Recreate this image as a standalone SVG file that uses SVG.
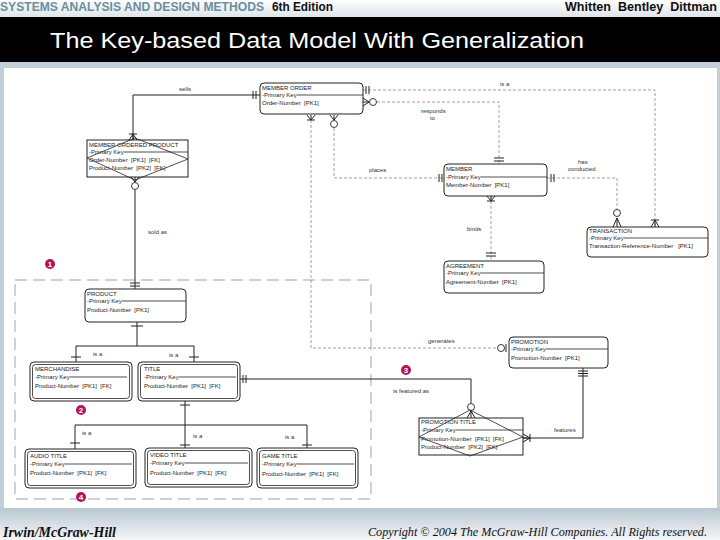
<svg xmlns="http://www.w3.org/2000/svg" width="720" height="540" viewBox="0 0 720 540">
<defs>
<linearGradient id="topg" x1="0" y1="0" x2="0" y2="1"><stop offset="0" stop-color="#ffffff"/><stop offset="1" stop-color="#dde4e9"/></linearGradient>
<linearGradient id="footg" x1="0" y1="0" x2="0" y2="1"><stop offset="0" stop-color="#b9c7d1"/><stop offset="1" stop-color="#f5f7f9"/></linearGradient>
<style>
text{white-space:pre}
.ent{fill:#fff;stroke:#222;stroke-width:1}
.in{fill:none;stroke:#222;stroke-width:0.8}
.et{font-family:"Liberation Sans",Arial,sans-serif;font-size:6px;fill:#222}
.lb{font-family:"Liberation Sans",Arial,sans-serif;font-size:6px;fill:#333}
.sol{fill:none;stroke:#222;stroke-width:1}
.dsh{fill:none;stroke:#888;stroke-width:0.8;stroke-dasharray:3,2}
.mk{fill:none;stroke:#222;stroke-width:1}
.cir{fill:#fff;stroke:#222;stroke-width:0.9}
.reg{fill:none;stroke:#999;stroke-width:0.9;stroke-dasharray:12,6}
.bd{fill:#b5125e}
.bt{font-family:"Liberation Sans",Arial,sans-serif;font-size:8px;font-weight:bold;fill:#fff;text-anchor:middle}
.pkl{stroke:#222;stroke-width:0.8}
</style>
</defs>
<!-- background -->
<rect x="0" y="0" width="720" height="540" fill="#c3cfd8"/>
<rect x="0" y="0" width="720" height="17" fill="url(#topg)"/>
<rect x="0" y="17" width="720" height="45" fill="#000"/>
<rect x="0" y="508" width="720" height="32" fill="url(#footg)"/>
<rect x="4" y="68" width="713" height="440" fill="#fff"/>
<g id="header">
<text x="0" y="11" font-family="'Liberation Sans',Arial,sans-serif" font-size="12" font-weight="bold" fill="#6b8e9c" textLength="264" lengthAdjust="spacingAndGlyphs">SYSTEMS ANALYSIS AND DESIGN METHODS</text>
<text x="272" y="11" font-family="'Liberation Sans',Arial,sans-serif" font-size="12" font-weight="bold" fill="#111" textLength="61" lengthAdjust="spacingAndGlyphs">6th Edition</text>
<text x="565" y="11" font-family="'Liberation Sans',Arial,sans-serif" font-size="12" font-weight="bold" fill="#111" textLength="152" lengthAdjust="spacingAndGlyphs">Whitten  Bentley  Dittman</text>
<text x="50" y="48" font-family="'Liberation Sans',Arial,sans-serif" font-size="22" fill="#fff" textLength="534" lengthAdjust="spacingAndGlyphs">The Key-based Data Model With Generalization</text>
</g>
<g id="footer">
<text x="3" y="537" font-family="'Liberation Serif','Times New Roman',serif" font-size="14" font-style="italic" font-weight="bold" fill="#111" textLength="113" lengthAdjust="spacingAndGlyphs">Irwin/McGraw-Hill</text>
<text x="368" y="536" font-family="'Liberation Serif','Times New Roman',serif" font-size="12.5" font-style="italic" fill="#111" textLength="339" lengthAdjust="spacingAndGlyphs">Copyright © 2004 The McGraw-Hill Companies. All Rights reserved.</text>
</g>
<!-- generalization region -->
<path class="reg" d="M15,280 H371 V499 H15 Z"/>
<g id="connectors">
<!-- sells -->
<path class="sol" d="M260,95 H133 V140"/>
<path class="mk" d="M253,91 V99 M256,91 V99 M129,134 H137 M133,134 L129,140 M133,134 V140 M133,134 L137,140"/>
<!-- sold as -->
<path class="sol" d="M135,190 V289"/>
<path class="mk" d="M131,177 L135,182 M135,177 V182 M139,177 L135,182 M130,283 H140 M130,286 H140"/>
<circle class="cir" cx="135" cy="186" r="3.5"/>
<!-- is a (member order - transaction) -->
<path class="dsh" d="M363,90 H655 V227"/>
<path class="mk" d="M366,86 V94 M369,86 V94 M651,220 H659 M655,220 L651,227 M655,220 V227 M655,220 L659,227"/>
<!-- responds to -->
<path class="dsh" d="M377,102 H499 V164"/>
<path class="mk" d="M363,98 L369,102 L363,106 M363,102 H369 M494,158 H504 M494,161 H504"/>
<circle class="cir" cx="373" cy="102" r="3.5"/>
<!-- places -->
<path class="dsh" d="M334,128 V178 H444"/>
<path class="mk" d="M330,115 L334,120 M334,115 V120 M338,115 L334,120 M439,174 V182 M442,174 V182"/>
<circle class="cir" cx="334" cy="124" r="3.5"/>
<!-- generates -->
<path class="dsh" d="M311,120 V348 H497"/>
<path class="mk" d="M307,115 L311,120 M311,115 V120 M315,115 L311,120 M307,120 H315 M506,344 V352"/>
<circle class="cir" cx="501" cy="348" r="3.5"/>
<!-- binds -->
<path class="dsh" d="M491,196 V261"/>
<path class="mk" d="M487,196 L491,201 M491,196 V201 M495,196 L491,201 M487,201 H495 M486,253 H496 M486,256 H496"/>
<!-- has conducted -->
<path class="dsh" d="M547,178 H617 V209"/>
<path class="mk" d="M551,174 V182 M554,174 V182 M617,218 L613,227 M617,218 V227 M617,218 L621,227"/>
<circle class="cir" cx="617" cy="213" r="3.5"/>
<!-- product generalization -->
<path class="sol" d="M137,322 V346 M76,346 H194 M76,346 V362 M194,346 V362"/>
<path class="mk" d="M131,326 H143 M71,357 H81 M189,357 H199"/>
<!-- is featured as -->
<path class="sol" d="M240,379 H471 V403"/>
<path class="mk" d="M243,375 V383 M246,375 V383 M471,411 L467,418 M471,411 V418 M471,411 L475,418"/>
<circle class="cir" cx="471" cy="407" r="3.5"/>
<!-- features -->
<path class="sol" d="M583,368 V438 H523"/>
<path class="mk" d="M578,371 H588 M578,373.5 H588 M578,376 H588 M530,434 V442 M530,438 L523,434 M530,438 H523 M530,438 L523,442"/>
<!-- title generalization -->
<path class="sol" d="M185,401 V448 M75,425 H307 M75,425 V449 M307,425 V448"/>
<path class="mk" d="M180,405 H190 M70,443 H80 M180,445 H190 M302,445 H312"/>
</g>
<g id="labels">
<text class="lb" x="179" y="91">sells</text>
<text class="lb" x="500" y="86">is a</text>
<text class="lb" x="421" y="113">responds</text>
<text class="lb" x="430" y="120">to</text>
<text class="lb" x="369" y="172">places</text>
<text class="lb" x="578" y="164">has</text>
<text class="lb" x="568" y="171">conducted</text>
<text class="lb" x="467" y="231">binds</text>
<text class="lb" x="148" y="234">sold as</text>
<text class="lb" x="428" y="343">generates</text>
<text class="lb" x="93" y="356">is a</text>
<text class="lb" x="169" y="357">is a</text>
<text class="lb" x="393" y="393">is featured as</text>
<text class="lb" x="554" y="432">features</text>
<text class="lb" x="82" y="435">is a</text>
<text class="lb" x="193" y="438">is a</text>
<text class="lb" x="285" y="439">is a</text>
</g>
<g id="badges">
<circle class="bd" cx="50" cy="264" r="5"/><text class="bt" x="50" y="267">1</text>
<circle class="bd" cx="81" cy="410" r="5"/><text class="bt" x="81" y="413">2</text>
<circle class="bd" cx="406" cy="370" r="5"/><text class="bt" x="406" y="373">3</text>
<circle class="bd" cx="81" cy="497" r="5"/><text class="bt" x="81" y="500">4</text>
</g>
<g id="member-order">
<rect class="ent" x="260" y="83" width="103" height="31" rx="4"/>
<text class="et" x="262" y="90">MEMBER ORDER</text>
<text class="et" x="262" y="97">-Primary Key</text><line class="pkl" x1="297" y1="95" x2="363" y2="95"/>
<text class="et" x="262" y="105">Order-Number  [PK1]</text>
</g>
<g id="member-ordered-product">
<rect class="ent" x="87" y="140" width="101" height="37"/>
<path class="in" d="M87,158 L135,138 L188,159 L135,180 Z"/>
<text class="et" x="89" y="147">MEMBER ORDERED PRODUCT</text>
<text class="et" x="89" y="154">-Primary Key</text><line class="pkl" x1="124" y1="152" x2="188" y2="152"/>
<text class="et" x="89" y="162">Order-Number  [PK1]  [FK]</text>
<text class="et" x="89" y="170">Product-Number  [PK2]  [FK]</text>
</g>
<g id="member">
<rect class="ent" x="444" y="164" width="103" height="32" rx="4"/>
<text class="et" x="446" y="171">MEMBER</text>
<text class="et" x="446" y="179">-Primary Key</text><line class="pkl" x1="481" y1="177" x2="547" y2="177"/>
<text class="et" x="446" y="187">Member-Number  [PK1]</text>
</g>
<g id="agreement">
<rect class="ent" x="444" y="261" width="100" height="32" rx="4"/>
<text class="et" x="446" y="268">AGREEMENT</text>
<text class="et" x="446" y="275">-Primary Key</text><line class="pkl" x1="481" y1="273" x2="544" y2="273"/>
<text class="et" x="446" y="284">Agreement-Number  [PK1]</text>
</g>
<g id="transaction">
<rect class="ent" x="587" y="227" width="121" height="30" rx="4"/>
<text class="et" x="589" y="233">TRANSACTION</text>
<text class="et" x="589" y="240">-Primary Key</text><line class="pkl" x1="624" y1="238" x2="708" y2="238"/>
<text class="et" x="589" y="248">Transaction-Reference-Number   [PK1]</text>
</g>
<g id="product">
<rect class="ent" x="85" y="289" width="101" height="33" rx="4"/>
<text class="et" x="87" y="296">PRODUCT</text>
<text class="et" x="87" y="303">-Primary Key</text><line class="pkl" x1="122" y1="301" x2="186" y2="301"/>
<text class="et" x="87" y="312">Product-Number  [PK1]</text>
</g>
<g id="merchandise">
<rect class="ent" x="30" y="362" width="102" height="39" rx="4"/>
<rect class="in" x="32.5" y="364.5" width="97" height="34" rx="3"/>
<text class="et" x="35" y="371">MERCHANDISE</text>
<text class="et" x="35" y="379">-Primary Key</text><line class="pkl" x1="70" y1="377" x2="127" y2="377"/>
<text class="et" x="35" y="388">Product-Number  [PK1]  [FK]</text>
</g>
<g id="title">
<rect class="ent" x="138" y="362" width="102" height="39" rx="4"/>
<rect class="in" x="140.5" y="364.5" width="97" height="34" rx="3"/>
<text class="et" x="144" y="371">TITLE</text>
<text class="et" x="144" y="379">-Primary Key</text><line class="pkl" x1="179" y1="377" x2="236" y2="377"/>
<text class="et" x="144" y="388">Product-Number  [PK1]  [FK]</text>
</g>
<g id="promotion">
<rect class="ent" x="509" y="337" width="99" height="31" rx="4"/>
<text class="et" x="511" y="344">PROMOTION</text>
<text class="et" x="511" y="351">-Primary Key</text><line class="pkl" x1="546" y1="349" x2="608" y2="349"/>
<text class="et" x="511" y="360">Promotion-Number  [PK1]</text>
</g>
<g id="promotion-title">
<rect class="ent" x="419" y="418" width="104" height="37"/>
<path class="in" d="M419,437 L470,410 L523,437 L470,456 Z"/>
<text class="et" x="421" y="424">PROMOTION TITLE</text>
<text class="et" x="421" y="432">-Primary Key</text><line class="pkl" x1="456" y1="430" x2="523" y2="430"/>
<text class="et" x="421" y="441">Promotion-Number  [PK1]  [FK]</text>
<text class="et" x="421" y="449">Product-Number  [PK2]  [FK]</text>
</g>
<g id="audio-title">
<rect class="ent" x="25" y="449" width="111" height="39" rx="4"/>
<rect class="in" x="27.5" y="451.5" width="106" height="34" rx="3"/>
<text class="et" x="30" y="458">AUDIO TITLE</text>
<text class="et" x="30" y="466">-Primary Key</text><line class="pkl" x1="65" y1="464" x2="132" y2="464"/>
<text class="et" x="30" y="475">Product-Number  [PK1]  [FK]</text>
</g>
<g id="video-title">
<rect class="ent" x="145" y="448" width="107" height="39" rx="4"/>
<rect class="in" x="147.5" y="450.5" width="102" height="34" rx="3"/>
<text class="et" x="150" y="457">VIDEO TITLE</text>
<text class="et" x="150" y="465">-Primary Key</text><line class="pkl" x1="185" y1="463" x2="248" y2="463"/>
<text class="et" x="150" y="475">Product-Number  [PK1]  [FK]</text>
</g>
<g id="game-title">
<rect class="ent" x="257" y="448" width="101" height="40" rx="4"/>
<rect class="in" x="259.5" y="450.5" width="96" height="35" rx="3"/>
<text class="et" x="262" y="458">GAME TITLE</text>
<text class="et" x="262" y="466">-Primary Key</text><line class="pkl" x1="297" y1="464" x2="354" y2="464"/>
<text class="et" x="262" y="476">Product-Number  [PK1]  [FK]</text>
</g>
</svg>
